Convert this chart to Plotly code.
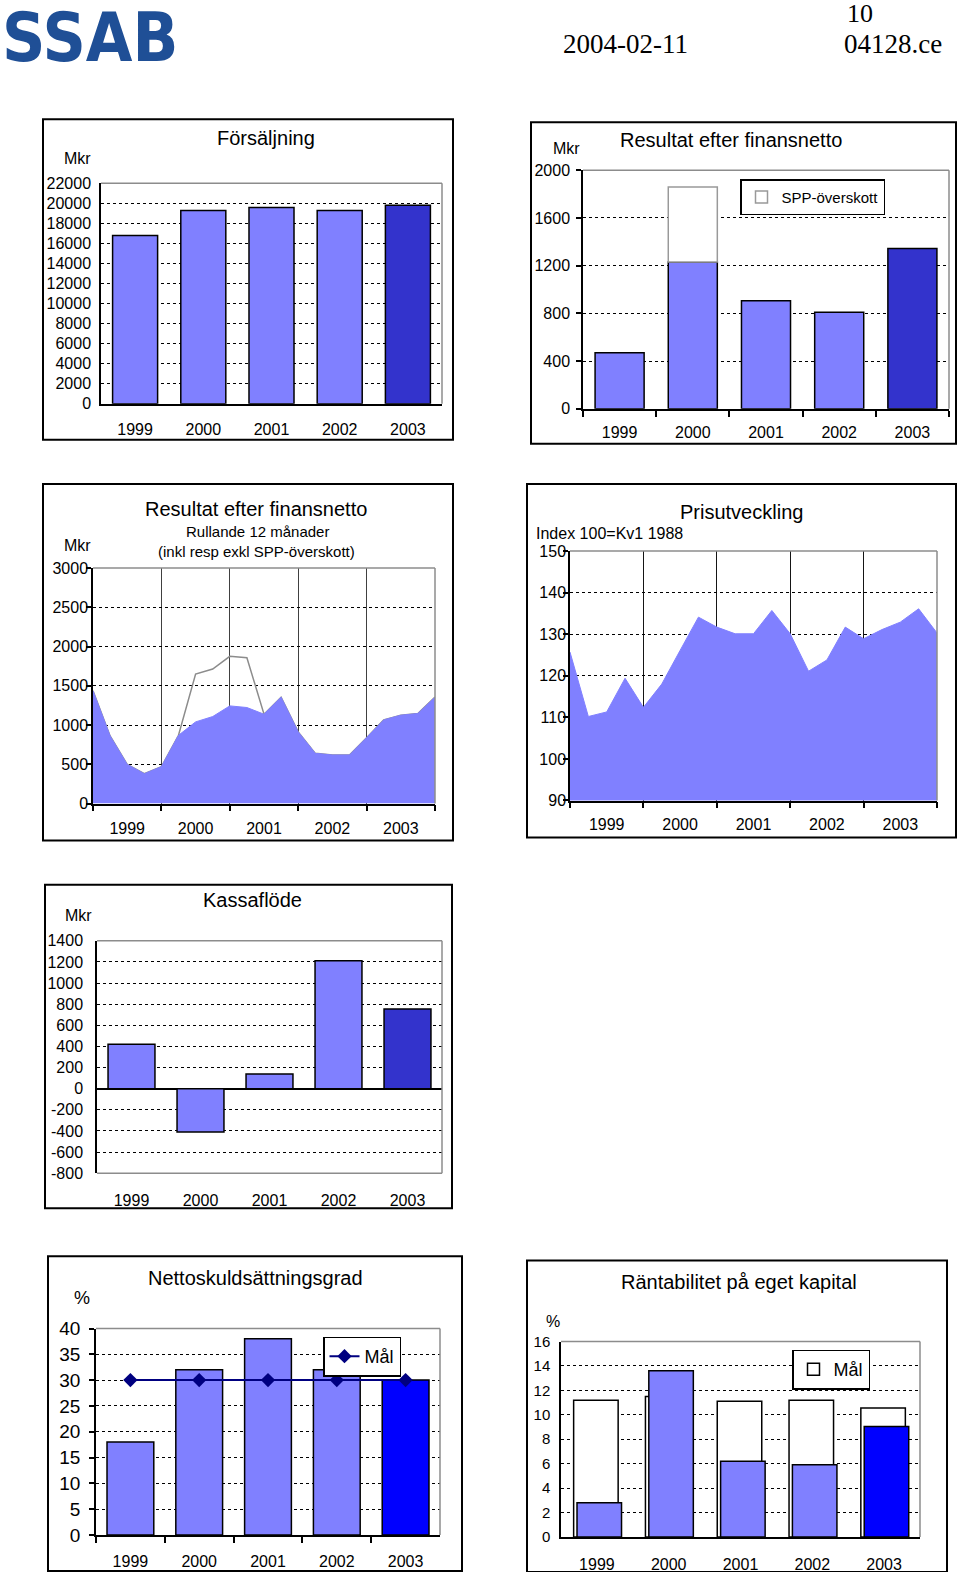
import plotly.graph_objects as go

W, H = 960, 1572          # reference picture size
FIG_H = 1600              # figure height (page pixels)
Y_OFF, Y_SCALE = 9.0, 0.985  # measured page->picture vertical calibration

# ---------------- data ----------------
years = ["1999", "2000", "2001", "2002", "2003"]
sales_mkr = [16800, 19300, 19600, 19300, 19800]
result_mkr = [470, 1230, 905, 810, 1345]
spp_mkr = [None, 630, None, None, None]

quarters = list(range(21))
year_mid = [2, 6, 10, 14, 18]
year_edges = [0, 4, 8, 12, 16, 20]
rolling_excl = [1436, 861, 498, 379, 469, 869, 1040, 1108, 1244, 1223, 1138,
                1355, 912, 639, 618, 618, 839, 1065, 1125, 1146, 1355]
rolling_incl = [1436, 861, 498, 379, 469, 869, 1649, 1713, 1875, 1858, 1138,
                1355, 912, 639, 618, 618, 839, 1065, 1125, 1146, 1355]
price_index = [125.7, 110.2, 111.3, 119.4, 112.4, 118.0, 126.1, 134.1, 131.7,
               130.1, 130.1, 135.7, 130.1, 121.1, 123.8, 131.7, 128.9, 131.1,
               132.9, 136.1, 130.3]

cashflow_mkr = [420, -410, 140, 1210, 755]
cash_ticks = [-800, -600, -400, -200, 0, 200, 400, 600, 800, 1000, 1200, 1400]
cash_ticktext = ["-800", "-600", "-400", "-200", "0", "200", "400", "600",
                 "800", "1000", "1200", "1400"]
net_debt_pct = [18, 32, 38, 32, 30]
net_debt_target = [30, 30, 30, 30, 30]
roe_pct = [2.8, 13.6, 6.2, 5.9, 9.05]
roe_target = [11.2, 11.5, 11.1, 11.2, 10.55]

# ---------------- styles ----------------
LIGHT = "#8080FF"
DARK = "#3333CC"
BLUE = "#0000FF"
NAVY = "#000080"
BORDER = "#8c8c8c"
FONT = "Liberation Sans, Arial, sans-serif"
SERIF = "Liberation Serif, Times New Roman, serif"


def Y(y):
    return (y - Y_OFF) / Y_SCALE


def xd(a, b):
    return [a / W, b / W]


def yd(top, bottom):
    return [1 - Y(bottom) / FIG_H, 1 - Y(top) / FIG_H]


def px(x):
    return x / W


def py(y):
    return 1 - Y(y) / FIG_H


areas = {
    1: (101, 442, 182, 402),
    2: (583, 949, 169, 407),
    3: (93, 435, 566, 801),
    4: (570, 937, 549, 798),
    5: (97, 442, 938, 1170),
    6: (96, 440, 1325, 1531),
    7: (561, 920, 1338, 1533),
}
boxes = [
    (43, 453, 118, 438),
    (531, 956, 121, 442),
    (43, 453, 482, 838),
    (527, 956, 482, 835),
    (45, 452, 882, 1205),
    (48, 462, 1253, 1567),
    (527, 947, 1257, 1568),
]


def ax(i):
    return ("x" if i == 1 else f"x{i}"), ("y" if i == 1 else f"y{i}")


fig = go.Figure()
line_blk = dict(color="black", width=1.5)

# P1 Försäljning
xa, ya = ax(1)
fig.add_trace(go.Bar(x=years, y=sales_mkr, width=0.66,
                     marker=dict(color=[LIGHT] * 4 + [DARK], line=line_blk),
                     xaxis=xa, yaxis=ya, showlegend=False))

# P2 Resultat efter finansnetto
xa, ya = ax(2)
fig.add_trace(go.Bar(x=years, y=result_mkr, width=0.67,
                     marker=dict(color=[LIGHT] * 4 + [DARK], line=line_blk),
                     xaxis=xa, yaxis=ya, showlegend=False))
fig.add_trace(go.Bar(x=years, y=spp_mkr, base=result_mkr, width=0.67,
                     name="SPP-överskott",
                     marker=dict(color="white", line=dict(color="#999999", width=1.5)),
                     xaxis=xa, yaxis=ya, showlegend=True, legend="legend"))

# P3 rolling 12 months
xa, ya = ax(3)
fig.add_trace(go.Scatter(x=quarters, y=rolling_incl, mode="lines",
                         line=dict(color="#8c8c8c", width=1.5),
                         xaxis=xa, yaxis=ya, showlegend=False))
fig.add_trace(go.Scatter(x=quarters, y=rolling_excl, mode="lines", fill="tozeroy",
                         fillcolor=LIGHT, line=dict(color=LIGHT, width=1),
                         xaxis=xa, yaxis=ya, showlegend=False))

# P4 Prisutveckling
xa, ya = ax(4)
fig.add_trace(go.Scatter(x=quarters, y=price_index, mode="lines", fill="tozeroy",
                         fillcolor=LIGHT, line=dict(color=LIGHT, width=1),
                         xaxis=xa, yaxis=ya, showlegend=False))

# P5 Kassaflöde
xa, ya = ax(5)
fig.add_trace(go.Bar(x=years, y=cashflow_mkr, width=0.68,
                     marker=dict(color=[LIGHT] * 4 + [DARK], line=line_blk),
                     xaxis=xa, yaxis=ya, showlegend=False))

# P6 Nettoskuldsättningsgrad
xa, ya = ax(6)
fig.add_trace(go.Bar(x=years, y=net_debt_pct, width=0.68,
                     marker=dict(color=[LIGHT] * 4 + [BLUE], line=line_blk),
                     xaxis=xa, yaxis=ya, showlegend=False))
fig.add_trace(go.Scatter(x=years, y=net_debt_target, mode="lines+markers", name="Mål",
                         line=dict(color=NAVY, width=2),
                         marker=dict(symbol="diamond", size=11, color=NAVY),
                         xaxis=xa, yaxis=ya, showlegend=True, legend="legend2"))

# P7 Räntabilitet
xa, ya = ax(7)
fig.add_trace(go.Bar(x=years, y=roe_target, width=0.62, offset=-0.324, name="Mål",
                     marker=dict(color="white", line=line_blk),
                     xaxis=xa, yaxis=ya, showlegend=True, legend="legend3"))
fig.add_trace(go.Bar(x=years, y=roe_pct, width=0.62, offset=-0.277,
                     marker=dict(color=[LIGHT] * 4 + [BLUE], line=line_blk),
                     xaxis=xa, yaxis=ya, showlegend=False))

# ---------------- axes ----------------
grid = dict(showgrid=True, gridcolor="black", gridwidth=1, griddash="dot")
tf16 = dict(family=FONT, size=16, color="black")


def cat_x(i, ticks=False, standoff=14):
    x0, x1, t, b = areas[i]
    d = dict(domain=xd(x0, x1), anchor=ax(i)[1], type="category",
             range=[-0.5, 4.5], showgrid=False, zeroline=False,
             showline=True, linecolor="black", linewidth=1.5,
             tickfont=tf16, ticklabelstandoff=standoff, fixedrange=True)
    if ticks:
        d.update(ticks="outside", tickson="boundaries", ticklen=6,
                 tickwidth=1.5, tickcolor="black")
    else:
        d.update(ticks="")
    return d


def num_y(i, rng, dtick, ticks=False, size=16, standoff=8):
    x0, x1, t, b = areas[i]
    d = dict(domain=yd(t, b), anchor=ax(i)[0], range=rng, dtick=dtick,
             tick0=rng[0], tickformat="d", zeroline=False, showline=True,
             linecolor="black", linewidth=1.5,
             tickfont=dict(family=FONT, size=size, color="black"),
             ticklabelstandoff=standoff, fixedrange=True, **grid)
    if ticks:
        d.update(ticks="outside", ticklen=5, tickwidth=1.5, tickcolor="black")
    else:
        d.update(ticks="")
    return d


def time_x(i, gridcolor, standoff):
    x0, x1, t, b = areas[i]
    return dict(domain=xd(x0, x1), anchor=ax(i)[1], range=[0, 20],
                tickmode="array", tickvals=year_mid, ticktext=years, ticks="",
                showgrid=False, zeroline=False, showline=True, linecolor="black",
                linewidth=1.5, tickfont=tf16, ticklabelstandoff=standoff,
                fixedrange=True,
                minor=dict(tickmode="array", tickvals=year_edges, ticks="outside",
                           ticklen=6, tickwidth=1.5, tickcolor="black",
                           showgrid=True, gridcolor=gridcolor, gridwidth=1.4))


layout_axes = {
    "xaxis": cat_x(1, standoff=10),
    "yaxis": num_y(1, [0, 22000], 2000, standoff=5),
    "xaxis2": cat_x(2, ticks=True, standoff=8),
    "yaxis2": num_y(2, [0, 2000], 400, ticks=True, standoff=3),
    "xaxis3": time_x(3, "#404040", 10),
    "yaxis3": num_y(3, [0, 3000], 500, ticks=True, standoff=-5),
    "xaxis4": time_x(4, "#151515", 9),
    "yaxis4": num_y(4, [90, 150], 10, ticks=True, standoff=-6),
    "xaxis5": dict(cat_x(5, standoff=16), showline=False),
    "yaxis5": dict(num_y(5, [-800, 1400], 200, standoff=9), zeroline=True,
                   zerolinecolor="black", zerolinewidth=1.5,
                   tickmode="array", tickvals=cash_ticks, ticktext=cash_ticktext),
    "xaxis6": cat_x(6, ticks=True, standoff=11),
    "yaxis6": num_y(6, [0, 40], 5, ticks=True, size=19, standoff=5),
    "xaxis7": cat_x(7, standoff=12),
    "yaxis7": num_y(7, [0, 16], 2, size=15, standoff=6),
}

# ---------------- shapes ----------------
shapes = []
for i in areas:
    xa, ya = ax(i)
    ref = dict(xref=f"{xa} domain", yref=f"{ya} domain", layer="above",
               line=dict(color=BORDER, width=1.5))
    shapes.append(dict(type="line", x0=0, x1=1, y0=1, y1=1, **ref))
    shapes.append(dict(type="line", x0=1, x1=1, y0=0, y1=1, **ref))
    if i == 5:
        shapes.append(dict(type="line", x0=0, x1=1, y0=0, y1=0, **ref))
for (x0, x1, t, b) in boxes:
    shapes.append(dict(type="rect", xref="paper", yref="paper",
                       x0=px(x0), x1=px(x1), y0=py(b), y1=py(t),
                       line=dict(color="black", width=2)))


# ---------------- annotations ----------------
def ann(text, x, y, size, xanchor="center", family=FONT, color="black", **kw):
    return dict(text=text, x=px(x), y=py(y), xref="paper", yref="paper",
                xanchor=xanchor, yanchor="middle", showarrow=False,
                font=dict(family=family, size=size, color=color, **kw))


annotations = [
    ann("SSAB", 90, 37, 67, family="DejaVu Sans Condensed, Liberation Sans, sans-serif",
        color="#1f4f96", weight="bold"),
    ann("10", 860, 12, 26, family=SERIF),
    ann("2004-02-11", 625, 43, 27, family=SERIF),
    ann("04128.ce", 893, 43, 27, family=SERIF),
    ann("Försäljning", 266, 137, 20),
    ann("Mkr", 77, 157, 16),
    ann("Resultat efter finansnetto", 731, 139, 20),
    ann("Mkr", 566, 147, 16),
    ann("Resultat efter finansnetto", 256, 507, 20),
    ann("Rullande 12 månader", 257, 530, 15),
    ann("(inkl resp exkl SPP-överskott)", 256, 549, 15),
    ann("Mkr", 77, 543, 16),
    ann("Prisutveckling", 741, 510, 20),
    ann("Index 100=Kv1 1988", 534, 532, 16, xanchor="left"),
    ann("Kassaflöde", 252, 897, 20),
    ann("Mkr", 78, 913, 16),
    ann("Nettoskuldsättningsgrad", 255, 1275, 20),
    ann("%", 82, 1295, 18),
    ann("Räntabilitet på eget kapital", 739, 1279, 20),
    ann("%", 553, 1318, 16),
]

legend_common = dict(xanchor="left", yanchor="top", bgcolor="white",
                     bordercolor="black", borderwidth=1.5, itemwidth=30,
                     itemclick=False, itemdoubleclick=False)

fig.update_layout(
    width=W, height=FIG_H, margin=dict(l=0, r=0, t=0, b=0),
    paper_bgcolor="white", plot_bgcolor="white",
    font=dict(family=FONT, color="black"),
    barmode="overlay",
    shapes=shapes, annotations=annotations,
    legend=dict(x=px(740), y=py(178), font=dict(family=FONT, size=15), **legend_common),
    legend2=dict(x=px(323), y=py(1333), font=dict(family=FONT, size=18), **legend_common),
    legend3=dict(x=px(792), y=py(1346), font=dict(family=FONT, size=18), **legend_common),
    **layout_axes,
)

page_fix = (
    "var d=document.documentElement,b=document.body;"
    "d.style.margin='0';d.style.padding='0';d.style.overflow='hidden';"
    "b.style.margin='0';b.style.padding='0';b.style.overflow='hidden';"
    "var g=document.querySelectorAll('.plotly-graph-div');"
    "for(var k=0;k<g.length;k++){g[k].style.position='absolute';"
    "g[k].style.top='0px';g[k].style.left='0px';}"
)

fig.write_html("out.html", config={"displayModeBar": False}, post_script=page_fix)
